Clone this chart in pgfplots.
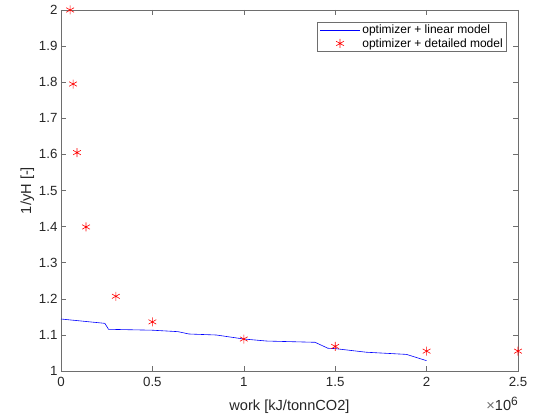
\documentclass[border=0pt]{standalone}
\usepackage{fontspec}
\setmainfont{Liberation Sans}
\usepackage{pgfplots}
\pgfplotsset{compat=1.18}
\definecolor{axgray}{RGB}{38,38,38}
\definecolor{linegray}{RGB}{110,110,110}
\begin{document}
\begin{tikzpicture}
\begin{axis}[
  scale only axis, width=457bp, height=361bp,
  xmin=0, xmax=2.5, ymin=1, ymax=2,
  xtick={0,0.5,1,1.5,2,2.5},
  ytick={1,1.1,1.2,1.3,1.4,1.5,1.6,1.7,1.8,1.9,2},
  yticklabels={1,1.1,1.2,1.3,1.4,1.5,1.6,1.7,1.8,1.9,2},
  xticklabels={0,0.5,1,1.5,2,2.5},
  /pgf/number format/assume math mode=true,
  tick align=inside, tick pos=both,
  major tick length=5bp,
  every tick/.style={linegray, line width=0.6bp},
  axis line style={linegray, line width=0.6bp},
  ticklabel style={font=\fontsize{13.3bp}{16bp}\selectfont, text=axgray},
  xticklabel style={yshift=-3bp},
  xlabel={work [kJ/tonnCO2]},
  ylabel={1/yH [-]},
  label style={font=\fontsize{14.6bp}{17bp}\selectfont, text=axgray},
  xlabel style={yshift=-6bp},
  ylabel style={yshift=-2bp},
  clip=false,
  legend style={at={(rel axis cs:0.976,0.967)}, anchor=north east,
    draw=linegray, line width=0.6bp, text=black,
    font=\fontsize{12bp}{14bp}\selectfont, row sep=-1bp,
    inner xsep=2bp, inner ysep=1bp},
  legend cell align=left,
  legend image code/.code={\draw[mark repeat=2,mark phase=2,#1] plot coordinates {(0bp,0bp) (20bp,0bp) (40bp,0bp)};},
]
\addplot[blue, line width=0.6bp] coordinates {
(0,1.144) (0.24,1.132) (0.26,1.1155) (0.50,1.113) (0.64,1.109) (0.70,1.1025)
(0.85,1.0997) (1.0,1.0886) (1.125,1.083) (1.2,1.082) (1.39,1.0795)
(1.46,1.063) (1.5,1.062) (1.67,1.052) (1.89,1.046) (2.0,1.0286)
};
\addlegendentry{optimizer + linear model}
\addplot[red, only marks, mark=asterisk, mark size=4.5bp, line width=0.6bp] coordinates {
(0.05,2.0) (0.066,1.795) (0.0875,1.605) (0.137,1.399) (0.3,1.207)
(0.5,1.136) (1.0,1.0886) (1.5,1.068) (2.0,1.055) (2.5,1.055)
};
\addlegendentry{optimizer + detailed model}
\node[anchor=north east, inner sep=0pt, text=axgray] at ([yshift=-26bp]rel axis cs:1,0) {\fontsize{14.6bp}{17bp}\selectfont{\color{linegray}×}10\raisebox{5bp}{\fontsize{12bp}{14bp}\selectfont 6}};
\end{axis}
\pgfresetboundingbox
\path (-61bp,-47bp) rectangle (477bp,371bp);
\end{tikzpicture}
\end{document}
